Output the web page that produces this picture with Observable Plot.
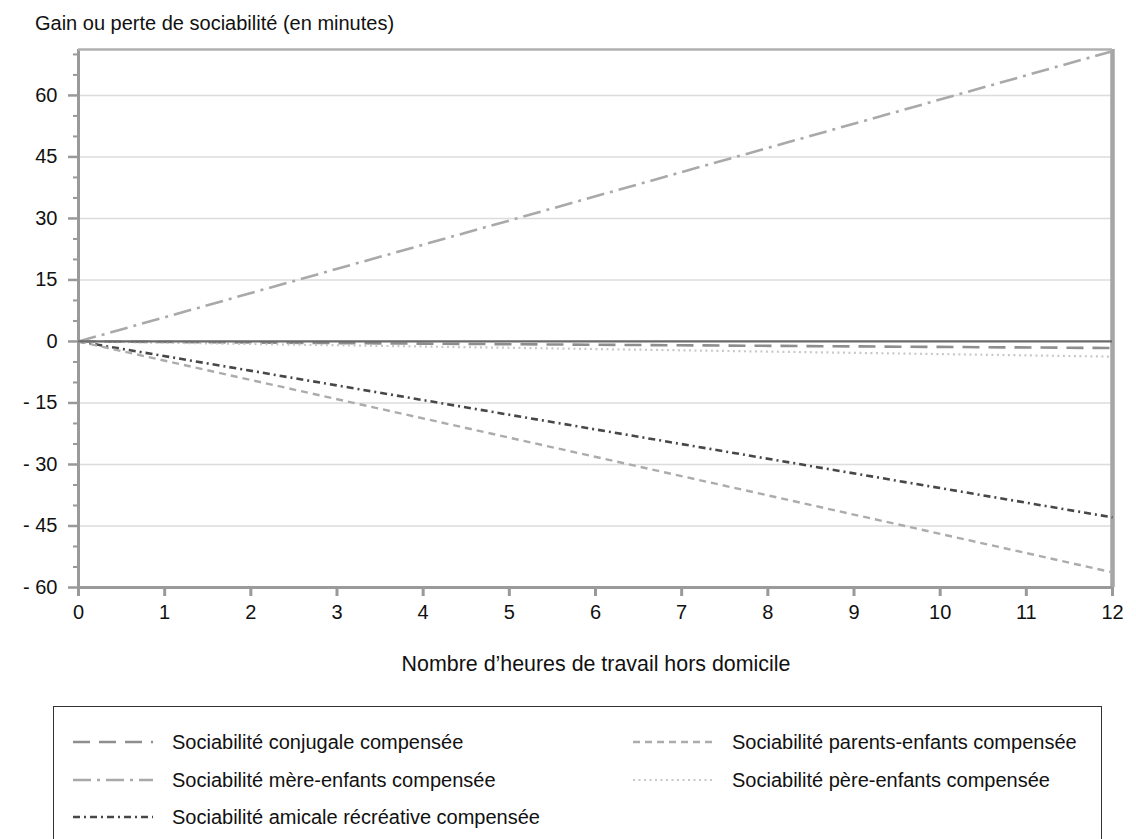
<!DOCTYPE html>
<html>
<head>
<meta charset="utf-8">
<script src="https://cdn.jsdelivr.net/npm/d3@7"></script>
<script src="https://cdn.jsdelivr.net/npm/@observablehq/plot@0.6"></script>
<style>
  html, body { margin: 0; padding: 0; background: #fff; }
  body { width: 1136px; height: 839px; overflow: hidden; position: relative;
         font-family: "Liberation Sans", Arial, Helvetica, sans-serif; color: #111; }
  #chart { position: absolute; left: 0; top: 0; z-index: 0; }
  #title { position: absolute; left: 35px; top: 12px; font-size: 20px; white-space: nowrap; z-index: 2; }
  #xlabel { position: absolute; left: 0; width: 1192px; top: 652px; font-size: 21.4px; text-align: center; white-space: nowrap; z-index: 2; }
  #legend { position: absolute; left: 53px; top: 706px; width: 1049px; height: 150px;
            border: 1.5px solid #333; box-sizing: border-box; z-index: 2; background: #fff; }
  .item { position: absolute; display: flex; align-items: center; font-size: 20px; white-space: nowrap; height: 24px; }
  .item svg { margin-right: 19px; }
</style>
</head>
<body>
<div id="chart"></div>
<div id="title">Gain ou perte de sociabilité (en minutes)</div>
<div id="xlabel">Nombre d’heures de travail hors domicile</div>
<div id="legend"></div>
<script>
// ---- Data ----
const hours = [0, 12];
const conjugale = [0, -1.6];
const mereEnfants = [0, 70.8];
const amicale = [0, -42.9];
const parentsEnfants = [0, -56.3];
const pereEnfants = [0, -3.7];
const seriesNames = [
  "Sociabilité conjugale compensée",
  "Sociabilité mère-enfants compensée",
  "Sociabilité amicale récréative compensée",
  "Sociabilité parents-enfants compensée",
  "Sociabilité père-enfants compensée"
];
const seriesValues = [conjugale, mereEnfants, amicale, parentsEnfants, pereEnfants];
const yTicks = [-60, -45, -30, -15, 0, 15, 30, 45, 60];
const yMinorTicks = [-55,-50,-40,-35,-25,-20,-10,-5,5,10,20,25,35,40,50,55,65,70];
const xTicks = [0,1,2,3,4,5,6,7,8,9,10,11,12];
const yTop = 71.2;

// ---- Styles ----
const styles = [
  {stroke: "#8e8e8e", dash: "17,9", width: 2.6},
  {stroke: "#a9a9a9", dash: "18,6,3,6", width: 2.6},
  {stroke: "#474747", dash: "7,4,2,4", width: 2.6},
  {stroke: "#acacac", dash: "7,5", width: 2.4},
  {stroke: "#c8c8c8", dash: "2,3.5", width: 2.2}
];

const rows = [];
seriesNames.forEach((name, i) => {
  hours.forEach((h, j) => rows.push({series: name, idx: i, x: h, y: seriesValues[i][j]}));
});

const fmt = d => d < 0 ? "- " + Math.abs(d) : String(d);

const lineMarks = seriesNames.map((name, i) =>
  Plot.line(rows.filter(r => r.idx === i), {
    x: "x", y: "y", stroke: styles[i].stroke, strokeWidth: styles[i].width,
    strokeDasharray: styles[i].dash, strokeLinecap: "butt"
  })
);

const chart = Plot.plot({
  width: 1136,
  height: 640,
  marginTop: 49,
  marginLeft: 78,
  marginRight: 24,
  marginBottom: 53,
  style: {fontFamily: "'Liberation Sans', Arial, Helvetica, sans-serif", fontSize: "20px", color: "#111", background: "#fff"},
  x: {domain: [0, 12]},
  y: {domain: [-60, yTop]},
  marks: [
    Plot.ruleY(yTicks.filter(d => d !== 0 && d !== -60), {stroke: "#dcdcdc", strokeWidth: 1.5}),
    Plot.axisY({ticks: yMinorTicks, tickFormat: () => "", tickSize: 5, stroke: "#999", strokeWidth: 2, label: null}),
    Plot.axisY({ticks: yTicks, tickFormat: fmt, tickSize: 10, tickPadding: 11, stroke: "#999", strokeWidth: 2.5, fill: "#111", label: null}),
    Plot.axisX({ticks: xTicks, tickSize: 9, tickPadding: 8, stroke: "#999", strokeWidth: 3, fill: "#111", label: null}),
    // frame lines
    Plot.ruleX([0], {stroke: "#9a9a9a", strokeWidth: 3}),
    Plot.ruleX([12], {stroke: "#a5a5a5", strokeWidth: 4.5}),
    Plot.ruleY([yTop], {stroke: "#b0b0b0", strokeWidth: 2.5}),
    Plot.ruleY([-60], {stroke: "#9a9a9a", strokeWidth: 3}),
    ...lineMarks,
    Plot.ruleY([0], {stroke: "#6a6a6a", strokeWidth: 2.2})
  ]
});
document.getElementById("chart").appendChild(chart);

// ---- Legend ----
const legend = document.getElementById("legend");
const positions = [
  {left: 19, top: 23}, {left: 19, top: 61}, {left: 19, top: 98},
  {left: 579, top: 23}, {left: 579, top: 61}
];
seriesNames.forEach((name, i) => {
  const div = document.createElement("div");
  div.className = "item";
  div.style.left = positions[i].left + "px";
  div.style.top = positions[i].top + "px";
  const s = styles[i];
  div.innerHTML = `<svg width="80" height="10"><line x1="0" x2="80" y1="5" y2="5" stroke="${s.stroke}" stroke-width="${s.width}" stroke-dasharray="${s.dash}"/></svg><span>${name}</span>`;
  legend.appendChild(div);
});
</script>
</body>
</html>
